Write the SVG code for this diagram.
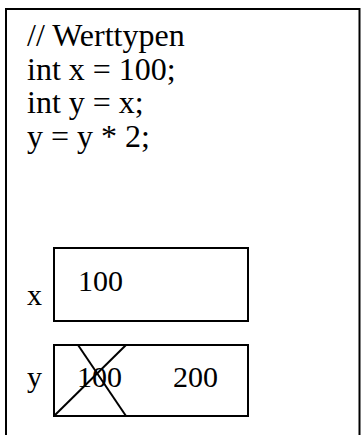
<svg xmlns="http://www.w3.org/2000/svg" width="361" height="435" viewBox="0 0 361 435">
<style>
text{font-family:"Liberation Serif","Times New Roman",serif;fill:#000}
.code{font-size:32px}
.val{font-size:30px}
.box{fill:#fff;stroke:#000;stroke-width:2}
.cross{stroke:#000;stroke-width:2;fill:none}
</style>
<rect width="361" height="435" fill="#fff"/>
<g id="frame">
<path d="M6,440 V9 H359.5 V440" fill="none" stroke="#000" stroke-width="2"/>
</g>
<g id="code">
<text class="code" x="27" y="46">// Werttypen</text>
<text class="code" x="27" y="80">int x = 100;</text>
<text class="code" x="27" y="113">int y = x;</text>
<text class="code" x="27" y="147">y = y * 2;</text>
</g>
<g id="var-x">
<text class="val" x="27" y="305">x</text>
<rect class="box" x="54" y="248" width="194" height="73"/>
<text class="val" x="78" y="291">100</text>
</g>
<g id="var-y">
<text class="val" x="27" y="387">y</text>
<rect class="box" x="54" y="345" width="194" height="71"/>
<text class="val" x="77" y="387">100</text>
<text class="val" x="173" y="387">200</text>
</g>
<g id="connectors">
<line class="cross" x1="54" y1="416" x2="126" y2="345"/>
<line class="cross" x1="78" y1="345" x2="126" y2="416"/>
</g>
</svg>
